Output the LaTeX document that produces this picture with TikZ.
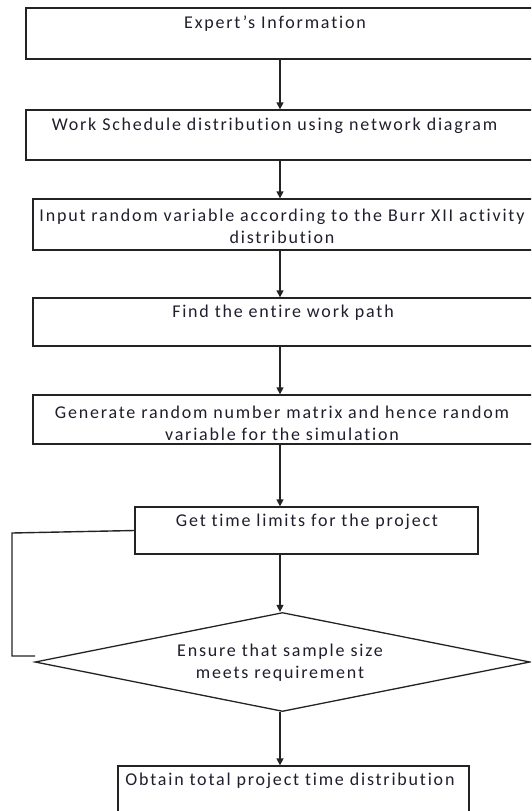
\documentclass[tikz,border=0pt]{standalone}
\usepackage{fontspec}
\setmainfont{Carlito}[LetterSpace=10,Ligatures={NoCommon}]
\usetikzlibrary{shapes.geometric,arrows.meta}
\definecolor{txt}{RGB}{30,30,45}
\definecolor{ln}{RGB}{35,35,35}
\begin{document}
\begin{tikzpicture}[x=1pt,y=-1pt,
  boxr/.style={draw=ln,line width=1.3pt,rectangle,inner sep=0pt},
  lbl/.style={text=txt,font=\fontsize{18}{21.5}\selectfont,inner sep=0pt,align=center},
  arr/.style={draw=ln,line width=1.4pt,-{Triangle[length=7pt,width=7pt]}},
  loopln/.style={draw=ln,line width=1.4pt}]
\useasboundingbox (0,0) rectangle (531,811);
\clip (0,0) rectangle (531,811);
% boxes
\node[boxr,minimum width=514pt,minimum height=51pt] (b1) at (283,33.5) {};
\node[boxr,minimum width=514pt,minimum height=50pt] (b2) at (283,135) {};
\node[boxr,minimum width=507pt,minimum height=51pt] (b3) at (286.5,224.5) {};
\node[boxr,minimum width=507pt,minimum height=48pt] (b4) at (286.5,322) {};
\node[boxr,minimum width=507pt,minimum height=49pt] (b5) at (286.5,419.5) {};
\node[boxr,minimum width=343pt,minimum height=47pt] (b6) at (306.5,530.5) {};
\node[draw=ln,line width=1.3pt,diamond,inner sep=0pt,minimum width=495pt,minimum height=99pt] (d) at (282.5,662) {};
\node[boxr,minimum width=351pt,minimum height=54pt] (b7) at (293.5,793) {};
% texts
\node[lbl,anchor=base] (t1) at (275,28) {Expert’s Information};
\node[lbl,anchor=base] (t2) at (274.5,130) {Work Schedule distribution using network diagram};
\node[lbl] (t3) at (282,226.5) {Input random variable according to the Burr XII activity\\distribution};
\node[lbl,anchor=base] (t4) at (283,317.7) {Find the entire work path};
\node[lbl] (t5) at (282,423.5) {Generate random number matrix and hence random\\variable for the simulation};
\node[lbl,anchor=base] (t6) at (307,526.7) {Get time limits for the project};
\node[lbl] (t7) at (280,662.5) {Ensure that sample size\\meets requirement};
\node[lbl,anchor=base] (t8) at (290,785) {Obtain total project time distribution};
% arrows
\coordinate (col) at (280,0);
\draw[arr] (b1.south -| col) -- (b2.north -| col);
\draw[arr] (b2.south -| col) -- (b3.north -| col);
\draw[arr] (b3.south -| col) -- (b4.north -| col);
\draw[arr] (b4.south -| col) -- (b5.north -| col);
\draw[arr] (b5.south -| col) -- (b6.north -| col);
\draw[arr] (b6.south -| col) -- (d.north -| col);
\draw[arr] (d.south -| col) -- (b7.north -| col);
% loop
\coordinate (l1) at (12,533);
\coordinate (l2) at (12,656);
\coordinate (l3) at (35,656);
\draw[loopln] (b6.west) -- (l1) -- (l2) -- (l3);
\end{tikzpicture}
\end{document}
